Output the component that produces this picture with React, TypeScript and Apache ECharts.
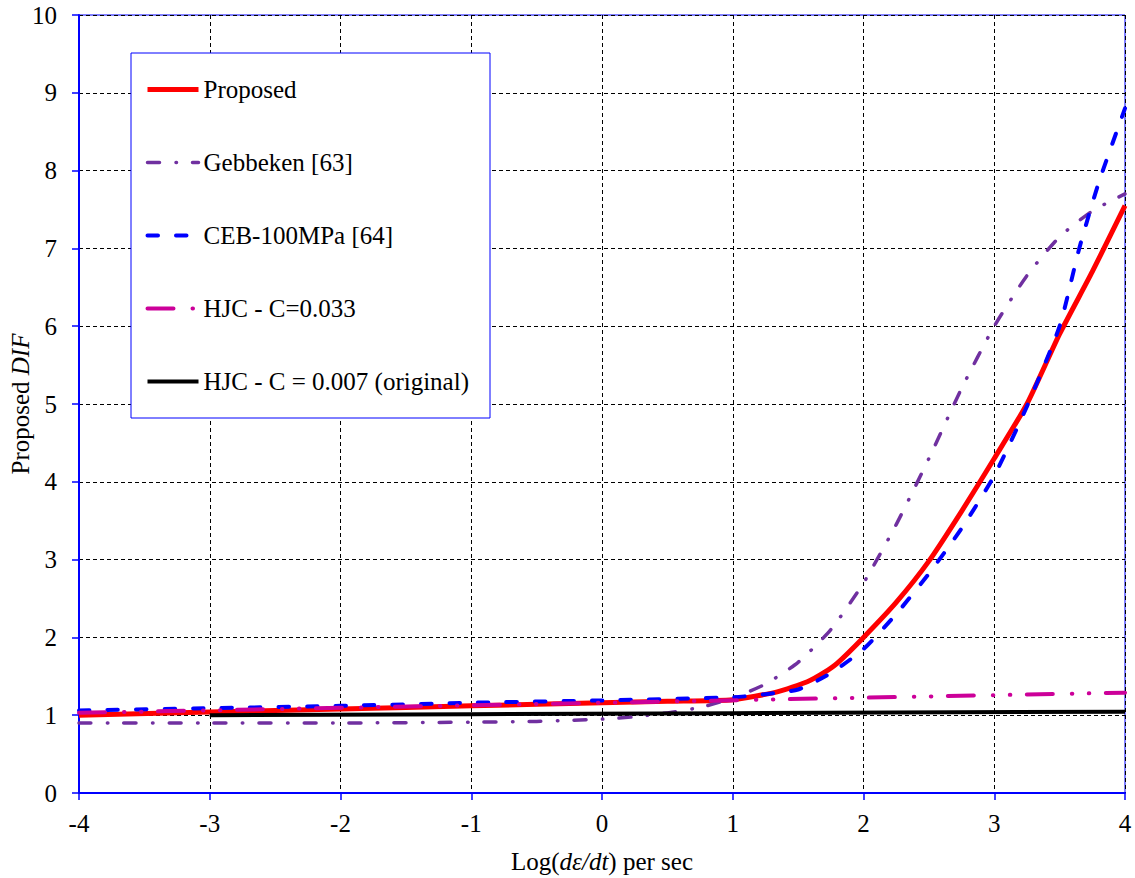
import React, { useEffect, useRef } from "react";
import * as echarts from "echarts";

// ---- data ----
const proposedX = [-4, -3, -2, -1, 0, 0.5, 1, 1.34, 1.57, 1.7, 1.8, 2, 2.25, 2.5, 2.75, 3, 3.25, 3.5, 3.75, 4];
const proposedY = [1.0, 1.04, 1.08, 1.12, 1.16, 1.18, 1.2, 1.3, 1.43, 1.55, 1.67, 2.0, 2.45, 2.98, 3.62, 4.3, 5.0, 5.9, 6.7, 7.55];

const gebbekenX = [-4, -3, -2, -1, -0.5, 0, 0.25, 0.5, 0.75, 1, 1.25, 1.5, 1.75, 2, 2.25, 2.5, 2.75, 3, 3.25, 3.5, 3.75, 4];
const gebbekenY = [0.9, 0.9, 0.9, 0.91, 0.92, 0.95, 0.98, 1.03, 1.1, 1.22, 1.4, 1.68, 2.1, 2.7, 3.45, 4.3, 5.2, 6.0, 6.65, 7.15, 7.48, 7.7];

const cebX = [-4, -3, -2, -1, 0, 1, 1.25, 1.5, 1.75, 2, 2.25, 2.5, 2.75, 3, 3.25, 3.5, 3.65, 3.8, 4];
const cebY = [1.06, 1.09, 1.12, 1.16, 1.19, 1.23, 1.27, 1.33, 1.54, 1.85, 2.3, 2.82, 3.4, 4.08, 4.97, 6.0, 7.0, 7.85, 8.8];

const hjc033X = [-4, -2, 0, 2, 4];
const hjc033Y = [1.03, 1.095, 1.16, 1.225, 1.29];

const hjc007X = [-3, -1, 1, 4];
const hjc007Y = [1.0, 1.013, 1.026, 1.045];

const seriesNames = [
  "Proposed",
  "Gebbeken [63]",
  "CEB-100MPa [64]",
  "HJC - C=0.033",
  "HJC - C = 0.007 (original)",
];

const xMin = -4;
const xMax = 4;
const yMin = 0;
const yMax = 10;

const FONT = "'Liberation Serif', 'Times New Roman', serif";
const FS = 25;

function pairs(xs: number[], ys: number[]) {
  return xs.map((x, i) => [x, ys[i]]);
}

export default function App() {
  const ref = useRef<HTMLDivElement>(null);

  useEffect(() => {
    document.body.style.margin = "0";
    const chart = echarts.init(ref.current!, null, { renderer: "svg" });

    const mkSeries = (
      name: string,
      data: number[][],
      color: string,
      width: number,
      type: any,
      cap: any,
      smooth: number
    ) => ({
      name,
      type: "line",
      data,
      symbol: "none",
      showSymbol: false,
      smooth,
      lineStyle: { color, width, type, cap, join: "round" },
      itemStyle: { color },
    });

    chart.setOption({
      animation: false,
      grid: {
        left: 79,
        right: 10,
        top: 15,
        bottom: 85,
        outerBoundsMode: "none",
        containLabel: false,
        show: true,
        borderColor: "#0000FF",
        borderWidth: 1,
        backgroundColor: "transparent",
      },
      xAxis: {
        type: "value",
        min: xMin,
        max: xMax,
        interval: 1,
        name: "Log({i|dε/dt}) per sec",
        nameLocation: "middle",
        nameMoveOverlap: false,
        nameGap: 56,
        nameTextStyle: {
          fontFamily: FONT,
          fontSize: FS,
          color: "#000",
          rich: { i: { fontStyle: "italic", fontFamily: FONT, fontSize: FS, color: "#000" } },
        },
        axisLine: { show: true, onZero: false, lineStyle: { color: "#0000FF", width: 2 } },
        axisTick: { show: true, inside: false, length: 7, lineStyle: { color: "#0000FF", width: 1.5 } },
        axisLabel: { fontFamily: FONT, fontSize: FS, color: "#000", margin: 18 },
        splitLine: { show: true, lineStyle: { color: "#000", width: 1, type: [4, 3] } },
      },
      yAxis: {
        type: "value",
        min: yMin,
        max: yMax,
        interval: 1,
        name: "Proposed {i|DIF}",
        nameLocation: "middle",
        nameMoveOverlap: false,
        nameGap: 46,
        nameTextStyle: {
          fontFamily: FONT,
          fontSize: FS,
          color: "#000",
          rich: { i: { fontStyle: "italic", fontFamily: FONT, fontSize: FS, color: "#000" } },
        },
        axisLine: { show: true, onZero: false, lineStyle: { color: "#0000FF", width: 2 } },
        axisTick: { show: true, inside: false, length: 7, lineStyle: { color: "#0000FF", width: 1.5 } },
        axisLabel: { fontFamily: FONT, fontSize: FS, color: "#000", margin: 22 },
        splitLine: { show: true, lineStyle: { color: "#000", width: 1, type: [4, 3] } },
      },
      graphic: [
        {
          type: "rect",
          z: 3,
          shape: { x: 131, y: 53, width: 359, height: 365 },
          style: { fill: "#fff", stroke: "#0000FF", lineWidth: 1 },
        },
      ],
      legend: {
        orient: "vertical",
        left: 145,
        top: 77,
        padding: 0,
        itemWidth: 51,
        itemHeight: 20,
        itemGap: 48,
        itemTextGap: 1,
        z: 5,
        textStyle: { fontFamily: FONT, fontSize: FS, color: "#000", lineHeight: 24 },
        lineStyle: { width: "inherit" },
        itemStyle: { opacity: 0, color: "rgba(0,0,0,0)", borderWidth: 0 },
        data: seriesNames,
      },
      series: [
        mkSeries(seriesNames[0], pairs(proposedX, proposedY), "#FF0000", 5, "solid", "butt", 0.2),
        mkSeries(seriesNames[1], pairs(gebbekenX, gebbekenY), "#7030A0", 3.5, [12, 16.5, 0.5, 16], "round", 0.2),
        mkSeries(seriesNames[2], pairs(cebX, cebY), "#0000FF", 4, [10.5, 18], "round", 0.2),
        mkSeries(seriesNames[3], pairs(hjc033X, hjc033Y), "#CC0099", 4, [26, 19, 0.5, 16.5, 0.5, 16.5], "round", 0),
        mkSeries(seriesNames[4], pairs(hjc007X, hjc007Y), "#000000", 4, "solid", "butt", 0),
      ],
    });

    return () => chart.dispose();
  }, []);

  return <div ref={ref} style={{ width: 1135, height: 878 }} />;
}
